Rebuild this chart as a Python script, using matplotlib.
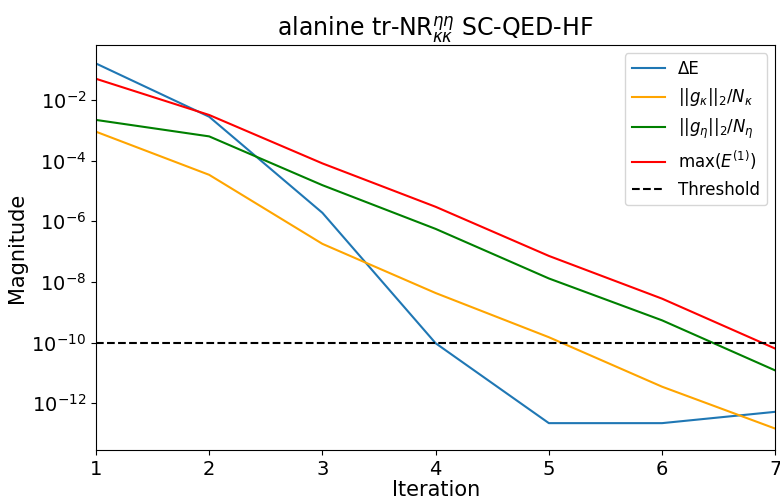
import numpy as np
import matplotlib.pyplot as plt

iterations = [1, 2, 3, 4, 5, 6, 7]
delta_e = [1.6e-1, 2.8e-3, 1.9e-6, 9.5e-11, 2.2e-13, 2.2e-13, 5.2e-13]
grad_kappa = [9e-4, 3.4e-5, 1.8e-7, 4.3e-9, 1.5e-10, 3.5e-12, 1.45e-13]
grad_eta = [2.2e-3, 6.3e-4, 1.55e-5, 5.6e-7, 1.3e-8, 5.4e-10, 1.2e-11]
max_e1 = [5e-2, 3.2e-3, 8.1e-5, 3e-6, 7.2e-8, 2.8e-9, 6.3e-11]
threshold = 1e-10

fig = plt.figure(figsize=(7.8, 5.01), dpi=100)
ax = fig.add_axes([0.123, 0.102, 0.871, 0.808])

ax.plot(iterations, delta_e, color='#1f77b4', label='ΔE')
ax.plot(iterations, grad_kappa, color='orange', label=r'$||g_\kappa||_2/N_\kappa$')
ax.plot(iterations, grad_eta, color='green', label=r'$||g_\eta||_2/N_\eta$')
ax.plot(iterations, max_e1, color='red', label=r'max($E^{(1)}$)')
ax.axhline(threshold, color='black', linestyle='--', label='Threshold')

ax.set_yscale('log')
ax.set_xlim(1, 7)
ax.set_ylim(10**-13.54, 10**-0.19)
ax.set_yticks([1e-2, 1e-4, 1e-6, 1e-8, 1e-10, 1e-12])
ax.minorticks_off()
ax.tick_params(labelsize=14)
ax.set_xlabel('Iteration', fontsize=15, labelpad=1)
ax.set_ylabel('Magnitude', fontsize=15, labelpad=3)
ax.set_title(r'alanine tr-NR$_{\kappa\kappa}^{\eta\eta}$ SC-QED-HF', fontsize=17)
ax.legend(loc='upper right', fontsize=12)

fig.savefig('out.png', dpi=100)
